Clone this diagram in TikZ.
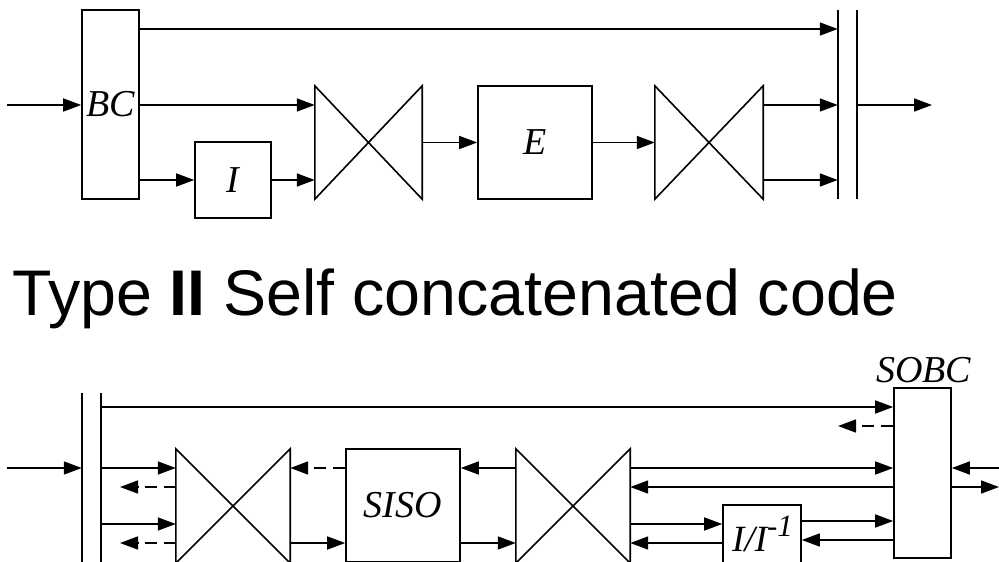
\documentclass[tikz,border=0pt]{standalone}
\usepackage{fontspec}
\setmainfont{Liberation Serif}
\newfontfamily\titlefont{Liberation Sans}
\usetikzlibrary{arrows.meta,calc}
\newcommand\lbl{\fontsize{38}{40}\selectfont\itshape}
\tikzset{
 ln/.style={line width=1.6pt},
 arr/.style={ln,-{Triangle[length=18pt,width=13pt]}},
 darr/.style={arr,dash pattern=on 12pt off 7pt},
 blk/.style={draw,ln,rectangle,inner sep=0pt,font=\lbl},
 bow/.style={rectangle,inner sep=0pt},
}
\begin{document}
\begin{tikzpicture}[x=1pt,y=-1pt]
\clip (0,0) rectangle (999,562);
% ---------- top diagram ----------
\node[blk,minimum width=57pt,minimum height=189pt] (BC) at (110.5,104.5) {BC};
\node[blk,minimum width=76pt,minimum height=76pt] (I1) at (233,180) {I};
\node[bow,minimum width=107pt,minimum height=113pt] (X1) at (368.5,142.5) {};
\node[blk,minimum width=114pt,minimum height=113pt] (E) at (535,142.5) {E};
\node[bow,minimum width=108pt,minimum height=113pt] (X2) at (709,142.5) {};
\node[bow,minimum width=19pt,minimum height=189pt] (M1) at (847.5,104.5) {};
\coordinate (in1) at (7,105);
\coordinate (out1) at (932,105);
\coordinate (t29) at (0,29);
\coordinate (t105) at (0,105);
\coordinate (t180) at (0,180);
\draw[ln] (M1.north west) -- (M1.south west) (M1.north east) -- (M1.south east);
\draw[arr] (in1) -- (in1 -| BC.west);
\draw[arr] (BC.east |- t29) -- (M1.west |- t29);
\draw[arr] (BC.east |- t105) -- (X1.west |- t105);
\draw[arr] (BC.east |- I1.west) -- (I1.west);
\draw[arr] (I1.east) -- (I1.east -| X1.west);
\draw[arr] (X1.east) -- (E.west);
\draw[arr] (E.east) -- (X2.west);
\draw[arr] (X2.east |- t105) -- (M1.west |- t105);
\draw[arr] (X2.east |- t180) -- (M1.west |- t180);
\draw[arr] (M1.east |- out1) -- (out1);
% ---------- title ----------
\node[anchor=base west,inner sep=0pt,font=\titlefont\fontsize{64.5}{70}\selectfont] (title) at (12,315) {Type \textbf{II} Self concatenated code};
% ---------- bottom diagram ----------
\node[bow,minimum width=19pt,minimum height=180pt] (M2) at (91.5,483) {};
\node[blk,minimum width=57pt,minimum height=170pt] (SOBC) at (922.5,473) {};
\node[font=\lbl,anchor=base,inner sep=0pt] (sobcl) at (923.5,382) {SOBC};
\node[bow,minimum width=114pt,minimum height=114pt] (X3) at (233,506) {};
\node[blk,minimum width=114pt,minimum height=113pt] (SISO) at (403,505.5) {SISO};
\node[bow,minimum width=114pt,minimum height=114pt] (X4) at (573,506) {};
\node[draw,ln,rectangle,minimum width=78pt,minimum height=70pt,inner sep=0pt] (II) at (762,540) {};
\node[anchor=base west,inner sep=0pt] (iil) at (732,551) {\fontsize{37}{39}\selectfont\itshape I/I\raisebox{15pt}{\fontsize{31}{32}\selectfont -1}};
\coordinate (in2) at (7,468);
\coordinate (r1) at (999,468);
\coordinate (r2) at (999,487);
\coordinate (y407) at (0,407);
\coordinate (y426) at (0,426);
\coordinate (y468) at (0,468);
\coordinate (y487) at (0,487);
\coordinate (y524) at (0,524);
\coordinate (y543) at (0,543);
\coordinate (y521) at (0,521);
\coordinate (y540) at (0,540);
\coordinate (d1) at (120,487);
\coordinate (d2) at (120,543);
\coordinate (d3) at (838,426);
\foreach \n in {X1,X2,X3,X4}
  \draw[ln] (\n.north west) -- (\n.south east) -- (\n.north east) -- (\n.south west) -- cycle;
\draw[ln] (M2.north west) -- (M2.south west) (M2.north east) -- (M2.south east);
\draw[arr] (in2) -- (in2 -| M2.west);
\draw[arr] (M2.east |- y407) -- (SOBC.west |- y407);
\draw[darr] (SOBC.west |- y426) -- (d3);
\draw[arr] (M2.east |- y468) -- (X3.west |- y468);
\draw[darr] (X3.west |- y487) -- (d1);
\draw[arr] (M2.east |- y524) -- (X3.west |- y524);
\draw[darr] (X3.west |- y543) -- (d2);
\draw[darr] (SISO.west |- y468) -- (X3.east |- y468);
\draw[arr] (X3.east |- y543) -- (SISO.west |- y543);
\draw[arr] (X4.west |- y468) -- (SISO.east |- y468);
\draw[arr] (SISO.east |- y543) -- (X4.west |- y543);
\draw[arr] (X4.east |- y468) -- (SOBC.west |- y468);
\draw[arr] (SOBC.west |- y487) -- (X4.east |- y487);
\draw[arr] (X4.east |- y524) -- (II.west |- y524);
\draw[arr] (II.west |- y543) -- (X4.east |- y543);
\draw[arr] (II.east |- y521) -- (SOBC.west |- y521);
\draw[arr] (SOBC.west |- y540) -- (II.east |- y540);
\draw[arr] (r1) -- (SOBC.east |- r1);
\draw[arr] (SOBC.east |- r2) -- (r2);
\end{tikzpicture}
\end{document}
